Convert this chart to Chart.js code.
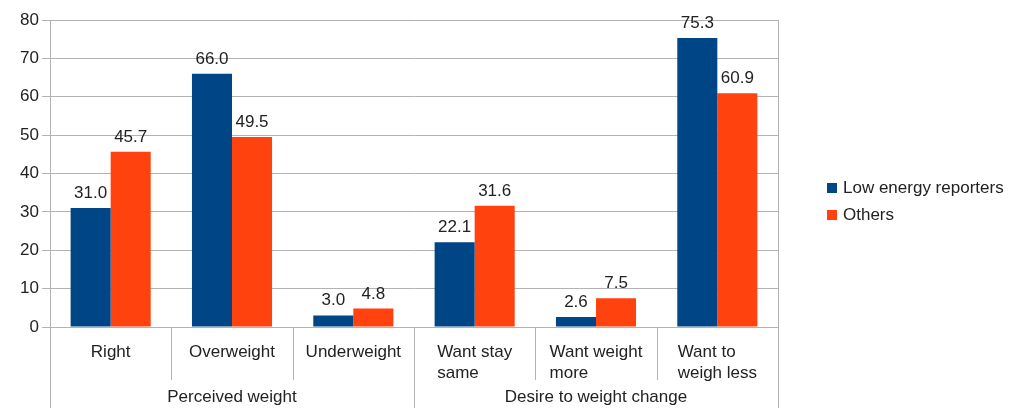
<!DOCTYPE html>
<html lang="en">
<head>
    <meta charset="UTF-8">
    <title>Low energy reporters vs others</title>
    <script src="https://cdn.jsdelivr.net/npm/chart.js"></script>
    <style>
        body { margin: 0; background: #fff; }
        canvas { display: block; }
    </style>
</head>
<body>
    <canvas id="weightChart" width="1013" height="408"></canvas>

    <script>
        // Data
        const categories = [
            ['Right'], ['Overweight'], ['Underweight'],
            ['Want stay', 'same'], ['Want weight', 'more'], ['Want to', 'weigh less']
        ];
        const groups = [
            { label: 'Perceived weight', from: 0, to: 2 },
            { label: 'Desire to weight change', from: 3, to: 5 }
        ];
        const lowEnergy = [31.0, 66.0, 3.0, 22.1, 2.6, 75.3];
        const others = [45.7, 49.5, 4.8, 31.6, 7.5, 60.9];
        const yTicks = [0, 10, 20, 30, 40, 50, 60, 70, 80];

        const FONT = '17px "Liberation Sans", Arial, sans-serif';
        const TEXT = '#222';
        const LINE = '#b3b3b3';

        // value labels, category labels, group labels, separators and legend
        const decorations = {
            id: 'decorations',
            afterDatasetsDraw(chart) {
                const ctx = chart.ctx;
                const area = chart.chartArea;
                const x = chart.scales.x;
                ctx.save();
                ctx.font = FONT;
                ctx.fillStyle = TEXT;

                // value labels above bars
                ctx.textAlign = 'center';
                ctx.textBaseline = 'alphabetic';
                chart.data.datasets.forEach((ds, i) => {
                    chart.getDatasetMeta(i).data.forEach((bar, j) => {
                        ctx.fillText(ds.data[j].toFixed(1), bar.x, bar.y - 10);
                    });
                });

                // right border
                ctx.strokeStyle = LINE;
                ctx.lineWidth = 1;
                ctx.beginPath();
                ctx.moveTo(Math.round(area.right) + 0.5, area.top);
                ctx.lineTo(Math.round(area.right) + 0.5, area.bottom);
                ctx.stroke();

                // category separators below the axis
                const half = (x.getPixelForValue(1) - x.getPixelForValue(0)) / 2;
                const groupEdges = new Set();
                groups.forEach(g => { groupEdges.add(g.from); groupEdges.add(g.to + 1); });
                for (let i = 0; i <= categories.length; i++) {
                    const px = Math.round(x.getPixelForValue(0) - half + i * half * 2) + 0.5;
                    const long = groupEdges.has(i);
                    ctx.beginPath();
                    ctx.moveTo(px, area.bottom);
                    ctx.lineTo(px, long ? chart.height : area.bottom + 53);
                    ctx.stroke();
                }

                // category labels, left aligned inside a centred block
                ctx.textAlign = 'left';
                ctx.textBaseline = 'middle';
                categories.forEach((lines, i) => {
                    const cx = x.getPixelForValue(i);
                    const w = Math.max(...lines.map(l => ctx.measureText(l).width));
                    lines.forEach((l, k) => {
                        ctx.fillText(l, cx - w / 2, area.bottom + 25 + k * 21);
                    });
                });

                // group labels
                ctx.textAlign = 'center';
                groups.forEach(g => {
                    const cx = (x.getPixelForValue(g.from) + x.getPixelForValue(g.to)) / 2;
                    ctx.fillText(g.label, cx, area.bottom + 70);
                });

                // legend
                ctx.textAlign = 'left';
                chart.data.datasets.forEach((ds, i) => {
                    const ly = 188 + i * 27;
                    ctx.fillStyle = ds.backgroundColor;
                    ctx.fillRect(827, ly - 5, 10, 10);
                    ctx.fillStyle = TEXT;
                    ctx.fillText(ds.label, 843, ly);
                });
                ctx.restore();
            }
        };

        const ctx = document.getElementById('weightChart').getContext('2d');
        new Chart(ctx, {
            type: 'bar',
            data: {
                labels: categories,
                datasets: [
                    { label: 'Low energy reporters', data: lowEnergy, backgroundColor: '#004586' },
                    { label: 'Others', data: others, backgroundColor: '#ff420e' }
                ]
            },
            options: {
                responsive: false,
                animation: false,
                devicePixelRatio: 1,
                categoryPercentage: 0.66,
                barPercentage: 1.0,
                layout: { padding: { left: 0, right: 235, top: 20, bottom: 0 } },
                plugins: {
                    legend: { display: false },
                    tooltip: { enabled: false }
                },
                scales: {
                    x: {
                        grid: { display: false },
                        border: { display: false },
                        ticks: { display: false },
                        afterFit: scale => { scale.height = 81; }
                    },
                    y: {
                        min: 0,
                        max: 80,
                        afterBuildTicks: scale => { scale.ticks = yTicks.map(v => ({ value: v })); },
                        afterFit: scale => { scale.width = 50; },
                        grid: { color: LINE, tickLength: 8 },
                        border: { color: LINE },
                        ticks: {
                            color: TEXT,
                            padding: 3,
                            font: { family: '"Liberation Sans", Arial, sans-serif', size: 17 }
                        }
                    }
                }
            },
            plugins: [decorations]
        });
    </script>
</body>
</html>
